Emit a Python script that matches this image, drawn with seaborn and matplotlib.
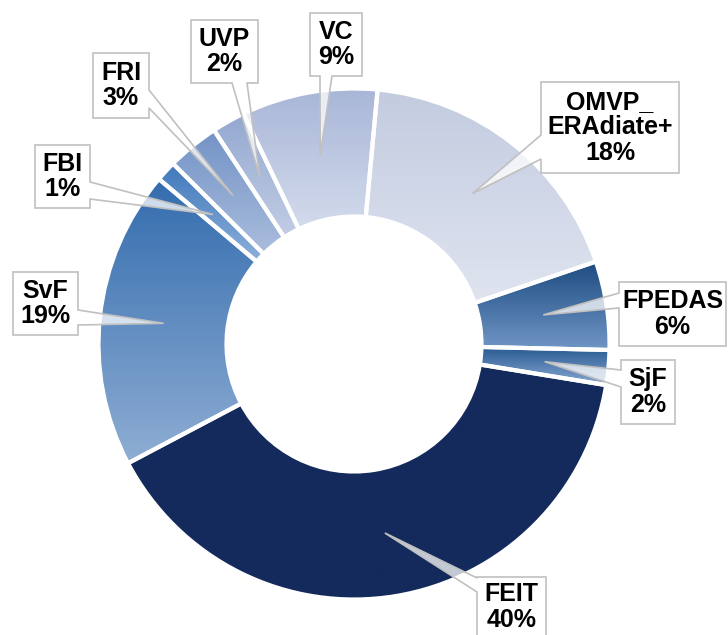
import matplotlib
matplotlib.use("Agg")
import matplotlib.pyplot as plt
import numpy as np
import seaborn as sns
from matplotlib.patches import Polygon

# slice shares (%), clockwise from just right of 12 o'clock
categories = ["OMVP_ERAdiate+", "FPEDAS", "SjF", "FEIT", "SvF", "FBI", "FRI", "UVP", "VC"]
values = [18.3, 5.6, 2.2, 39.7, 18.9, 1.3, 3.3, 2.1, 8.6]

# vertical gradient per slice (top colour, bottom colour)
grad_top = ["#c3cbe0", "#1d4b80", "#265890", "#142a5c", "#336cae", "#3f78bb", "#7393c6", "#93a8d0", "#a8b6d7"]
grad_bottom = ["#dfe4ef", "#7096c6", "#88a8d2", "#142a5c", "#8eadd3", "#8eb0da", "#aabddd", "#c2cde5", "#d3dbec"]

W, H = 728, 635
CX, CY = 354, 344          # pixel coords, y down
R_OUT, R_IN = 255.5, 127.5

# callout boxes: (x0, y0, x1, y1), side the pointer leaves from, pointer base
BOXES = {
    "VC": ((310, 13, 362, 76), "bottom", (320, 332)),
    "UVP": ((191, 20, 258, 83), "bottom", (232, 247)),
    "FRI": ((93, 53, 149, 118), "right", (90, 108)),
    "FBI": ((35, 145, 90, 208), "right", (182, 199)),
    "SvF": ((13, 272, 78, 335), "right", (310, 325)),
    "FEIT": ((477, 577, 546, 637), "left", (578, 592)),
    "SjF": ((621, 360, 675, 424), "left", (370, 387)),
    "FPEDAS": ((619, 282, 726, 346), "left", (293, 308)),
    "OMVP_ERAdiate+": ((541, 82, 679, 173), "left", (135, 159)),
}


def fy(y):
    return H - y


def callout_poly(box, side, base, tip):
    x0, y0, x1, y1 = box
    a, b = base
    pts = [(x0, y0)]
    if side == "top":
        pts += [(a, y0), tip, (b, y0)]
    pts.append((x1, y0))
    if side == "right":
        pts += [(x1, a), tip, (x1, b)]
    pts.append((x1, y1))
    if side == "bottom":
        pts += [(b, y1), tip, (a, y1)]
    pts.append((x0, y1))
    if side == "left":
        pts += [(x0, b), tip, (x0, a)]
    return [(x, fy(y)) for x, y in pts]


def plot():
    sns.set_theme(style="white")
    plt.rcParams["font.family"] = ["Liberation Sans", "DejaVu Sans"]

    fig = plt.figure(figsize=(W / 100, H / 100), dpi=100)
    ax = fig.add_axes([0, 0, 1, 1])

    wedges, _ = ax.pie(values, startangle=84.7, counterclock=False, radius=R_OUT,
                       center=(CX, fy(CY)),
                       wedgeprops=dict(width=R_OUT - R_IN, edgecolor="white",
                                       linewidth=3, facecolor="none", zorder=3))

    for w, top, bot in zip(wedges, grad_top, grad_bottom):
        ext = w.get_path().get_extents(w.get_patch_transform())
        cols = np.array(sns.blend_palette([top, bot], n_colors=128))[:, :3]
        img = cols.reshape(-1, 1, 3)
        im = ax.imshow(img, extent=[ext.x0, ext.x1, ext.y0, ext.y1], origin="upper",
                       aspect="auto", interpolation="bilinear", zorder=1)
        im.set_clip_path(w)

    r_mid = (R_OUT + R_IN) / 2
    for w, cat, v in zip(wedges, categories, values):
        box, side, base = BOXES[cat]
        ang = np.deg2rad((w.theta1 + w.theta2) / 2)
        tip = (CX + r_mid * np.cos(ang), CY - r_mid * np.sin(ang))
        poly = Polygon(callout_poly(box, side, base, tip), closed=True,
                       facecolor=(1, 1, 1, 0.75), edgecolor="#c0c0c0", linewidth=1.2, zorder=5)
        ax.add_patch(poly)
        label = cat.replace("_", "_\n") + f"\n{v:.0f}%"
        ax.text((box[0] + box[2]) / 2, fy((box[1] + box[3]) / 2), label,
                ha="center", va="center", fontsize=18, fontweight="bold",
                color="black", linespacing=1.1, zorder=6)

    ax.set_xlim(0, W)
    ax.set_ylim(0, H)
    ax.set_aspect("equal")
    ax.axis("off")
    fig.savefig("out.png", dpi=100)


if __name__ == "__main__":
    plot()
